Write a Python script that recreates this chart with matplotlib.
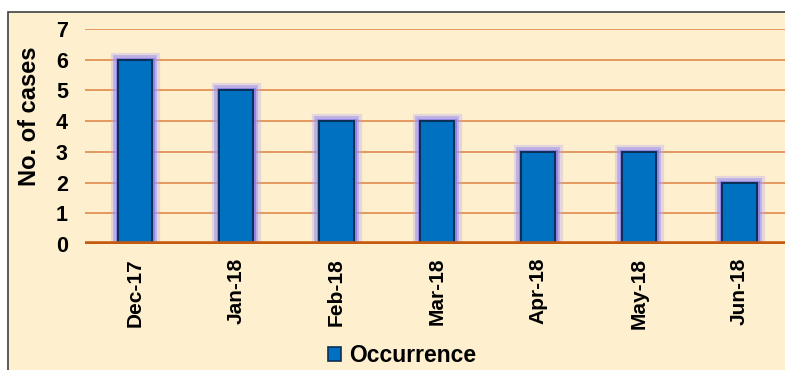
import matplotlib.pyplot as plt
import matplotlib.patheffects as pe
from matplotlib.patches import Rectangle, Patch
import numpy as np

# Data
months = ['Dec-17', 'Jan-18', 'Feb-18', 'Mar-18', 'Apr-18', 'May-18', 'Jun-18']
cases = [6, 5, 4, 4, 3, 3, 2]
series_name = 'Occurrence'
y_ticks = [0, 1, 2, 3, 4, 5, 6, 7]

plt.rcParams['font.family'] = ['Liberation Sans', 'DejaVu Sans']
plt.rcParams['font.weight'] = 'bold'

cream = '#FEF0CE'
grid_orange = '#E39157'
base_orange = '#C55A11'
bar_blue = '#0070C0'

fig = plt.figure(figsize=(7.85, 3.70), dpi=100)
fig.patch.set_facecolor('white')

# cream panel with dark border (runs off right/bottom edge)
fig.patches.append(Rectangle((8 / 785, -0.05), 1.0, (370 - 12) / 370 + 0.05,
                             transform=fig.transFigure, facecolor=cream,
                             edgecolor='#404040', linewidth=1.2, zorder=-5))

ax = fig.add_axes([84.5 / 785, (370 - 244) / 370, 705.5 / 785, (244 - 29) / 370])
ax.set_facecolor('none')
ax.set_zorder(2)

x = np.arange(len(months))
glow = [pe.Stroke(linewidth=11, foreground='#B4A8F2', alpha=0.35),
        pe.Stroke(linewidth=7, foreground='#9C8FEC', alpha=0.55),
        pe.Stroke(linewidth=3.5, foreground='#8577E4', alpha=0.8),
        pe.Normal()]
bars = ax.bar(x, cases, width=0.34, color=bar_blue, edgecolor='#0B2F55',
              linewidth=1.4, zorder=3, label=series_name)
for b in bars:
    b.set_path_effects(glow)

ax.set_xlim(-0.5, len(months) - 0.5)
ax.set_ylim(0, 7)
ax.set_yticks(y_ticks)
for t in y_ticks[1:]:
    ax.axhline(t, color=grid_orange, linewidth=1.3, zorder=1)
ax.axhline(0, color=base_orange, linewidth=4, zorder=5)

for s in ax.spines.values():
    s.set_visible(False)

ax.set_xticks(x)
ax.set_xticklabels(months, rotation=90, fontsize=15, fontweight='bold')
ax.tick_params(axis='x', length=0, labelsize=15, pad=10)
ax.tick_params(axis='y', length=0, labelsize=15.5, pad=12)
for lbl in ax.get_yticklabels():
    lbl.set_fontweight('bold')

fig.text(30 / 785, 1 - 116 / 370, 'No. of cases', rotation=90, ha='center',
         va='center', fontsize=17, fontweight='bold')

handle = Patch(facecolor=bar_blue, edgecolor='#0B2F55', linewidth=1.2)
leg = fig.legend(handles=[handle], labels=[series_name], loc='center',
                 bbox_to_anchor=(402 / 785, 1 - 356 / 370), frameon=False,
                 prop={'size': 16.5, 'weight': 'bold'}, handlelength=0.55,
                 handleheight=0.55, handletextpad=0.35)

fig.savefig('out.png', dpi=100, facecolor='white')
